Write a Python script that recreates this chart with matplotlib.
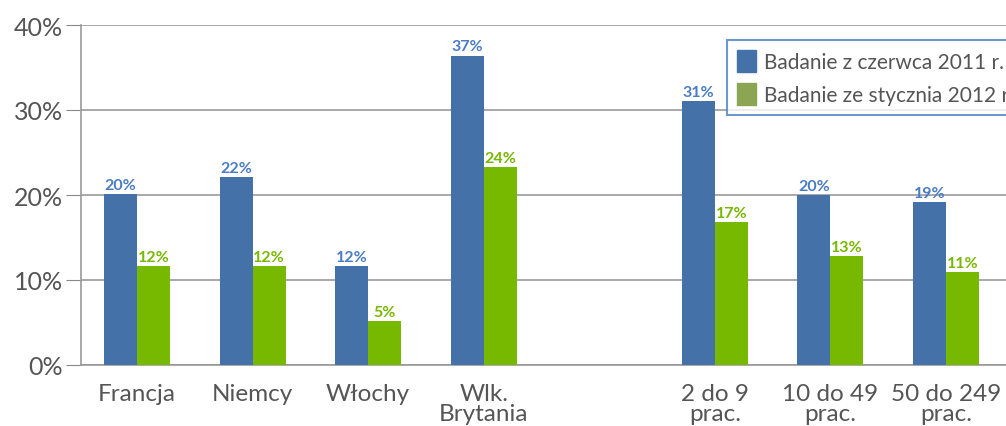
import matplotlib.pyplot as plt
import matplotlib.patches as mpatches
import numpy as np

plt.rcParams['font.family'] = ['Lato', 'DejaVu Sans']

# data
categories = ["Francja", "Niemcy", "Włochy", "Wlk.\nBrytania", "",
              "2 do 9\nprac.", "10 do 49\nprac.", "50 do 249\nprac."]
jun2011 = [20.1, 22.1, 11.6, 36.4, None, 31.1, 20.0, 19.2]
jan2012 = [11.6, 11.6, 5.2, 23.3, None, 16.8, 12.8, 10.9]
jun2011_labels = ["20%", "22%", "12%", "37%", "", "31%", "20%", "19%"]
jan2012_labels = ["12%", "12%", "5%", "24%", "", "17%", "13%", "11%"]
series_names = ["Badanie z czerwca 2011 r.", "Badanie ze stycznia 2012 r."]

blue = "#4472a8"
green = "#77b800"
legend_green = "#8ba552"
label_blue = "#4a7cc4"
grey_text = "#555555"

fig = plt.figure(figsize=(10.06, 4.27), dpi=100)
ax = fig.add_axes([81 / 1006, 61 / 427, 1 - 81 / 1006, 340 / 427])

x = np.arange(len(categories))
w = 0.286
for i in range(len(categories)):
    if jun2011[i] is None:
        continue
    ax.bar(x[i] - w / 2, jun2011[i], w, color=blue, zorder=3)
    ax.bar(x[i] + w / 2, jan2012[i], w, color=green, zorder=3)
    ax.text(x[i] - w / 2, jun2011[i] + 0.25, jun2011_labels[i], ha="center", va="bottom",
            color=label_blue, fontsize=11.5, fontweight="bold")
    ax.text(x[i] + w / 2, jan2012[i] + 0.25, jan2012_labels[i], ha="center", va="bottom",
            color=green, fontsize=11.5, fontweight="bold")

ax.set_xlim(-0.485, 7.52)
ax.set_ylim(0, 40)
ax.set_yticks([0, 10, 20, 30, 40])
ax.set_yticklabels(["0%", "10%", "20%", "30%", "40%"])
ax.set_xticks(x)
ax.set_xticklabels(categories, linespacing=0.95)
ax.tick_params(axis="y", length=11, color="#888888", labelsize=18, labelcolor=grey_text, pad=2)
ax.tick_params(axis="x", length=0, labelsize=17.5, labelcolor=grey_text, pad=13)
ax.grid(axis="y", color="#999999", linewidth=1.2, zorder=0)
for s in ["top", "right"]:
    ax.spines[s].set_visible(False)
ax.spines["left"].set_color("#999999")
ax.spines["bottom"].set_color("#999999")
ax.spines["left"].set_linewidth(1.2)
ax.spines["bottom"].set_linewidth(1.2)

handles = [mpatches.Patch(color=blue, label=series_names[0]),
           mpatches.Patch(color=legend_green, label=series_names[1])]
leg = fig.legend(handles=handles, loc="upper left", bbox_to_anchor=(727 / 1006, 1 - 41 / 427),
                 fontsize=15, frameon=True, fancybox=False, handlelength=0.9, handleheight=1.25,
                 handletextpad=0.4, labelspacing=0.5, borderpad=0.5, borderaxespad=0)
leg.get_frame().set_edgecolor("#4a7cc4")
leg.get_frame().set_linewidth(1.5)
for t in leg.get_texts():
    t.set_color(grey_text)

fig.savefig("out.png", dpi=100)
